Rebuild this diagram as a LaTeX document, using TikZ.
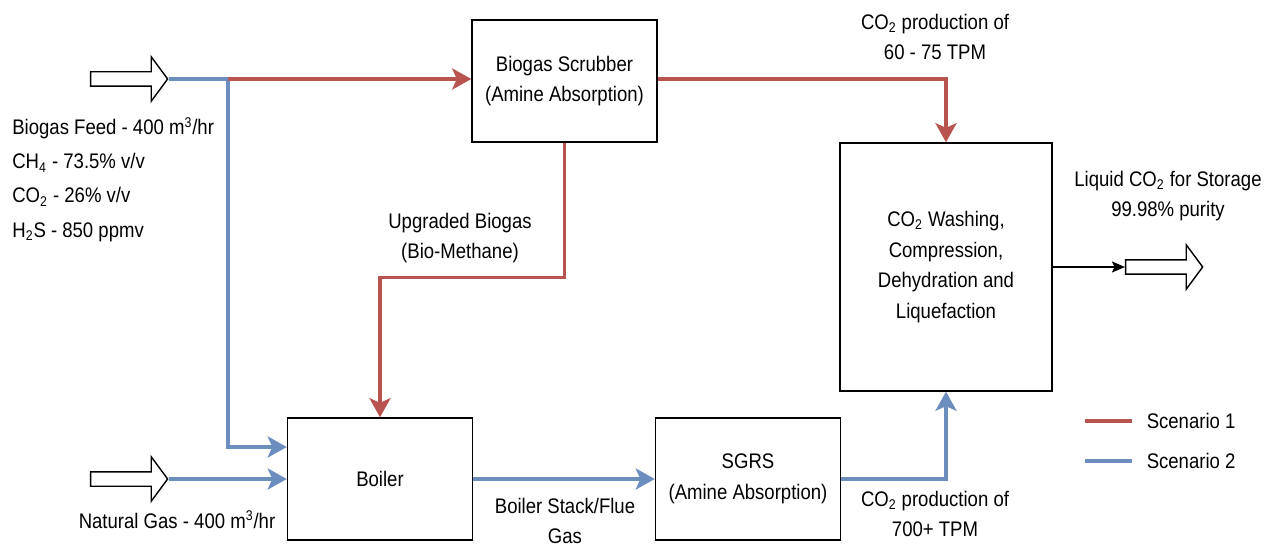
\documentclass[tikz,border=0pt]{standalone}
\usepackage{fontspec}
\setmainfont{Liberation Sans}[FakeStretch=0.88]
\usetikzlibrary{positioning}
\usetikzlibrary{arrows.meta}
\usetikzlibrary{shapes.arrows}
\definecolor{scenred}{HTML}{B85450}
\definecolor{scenblue}{HTML}{6C8EBF}
\tikzset{
	every node/.style={font=\fontsize{12}{17.5}\selectfont},
	unit/.style={draw, line width=0.85pt, align=center, minimum width=3.7cm, minimum height=2.44cm},
	hollow/.style={single arrow, draw, fill=white, line width=0.8pt, inner xsep=0pt, inner ysep=0.13cm,
		minimum height=1.54cm, single arrow head extend=0.3cm, single arrow tip angle=107},
	lbl/.style={align=center, inner sep=0pt},
	feed/.style={anchor=base west, inner sep=0pt},
	redline/.style={scenred, line width=2pt},
	blueline/.style={scenblue, line width=2pt},
	flow/.style={-{Stealth[length=0.38cm, width=0.42cm, inset=0.09cm]}},
	outflow/.style={-{Stealth[length=0.26cm, width=0.22cm, inset=0.05cm]}, line width=0.85pt}
}

\begin{document}
\begin{tikzpicture}[x=0.02cm, y=-0.02cm]
	\useasboundingbox (0,0) rectangle (1274,547);

	% Units
	\node (scrub) [unit] at (564.5,81) {Biogas Scrubber\\(Amine Absorption)};
	\node (wash) [unit, minimum width=4.24cm, minimum height=4.96cm] at (946,267) {CO\textsubscript{2} Washing,\\Compression,\\Dehydration and\\Liquefaction};
	\node (boiler) [unit] at (380,479) {Boiler};
	\node (sgrs) [unit] at (748,479) {SGRS\\(Amine Absorption)};

	% Inlets and outlet
	\node (bgin) [hollow] at (126.5,79) {};
	\node (ngin) [hollow] at (126.5,479) {};
	\node (lqout) [hollow] at (1161.5,267) {};
	\coordinate (junc) at (228,79);

	% Feed data
	\node (feed1) [feed] at (12,135) {Biogas Feed - 400 m\textsuperscript{3}/hr};
	\node (feed2) [feed] at (12,169) {CH\textsubscript{4} - 73.5\% v/v};
	\node (feed3) [feed] at (12,203) {CO\textsubscript{2} - 26\% v/v};
	\node (feed4) [feed] at (12,237) {H\textsubscript{2}S - 850 ppmv};
	\node (ngas) [lbl] at (177,520) {Natural Gas - 400 m\textsuperscript{3}/hr};

	% Stream labels
	\node (co2a) [lbl] at (935,37) {CO\textsubscript{2} production of\\60 - 75 TPM};
	\node (upg) [lbl] at (460,238) {Upgraded Biogas\\(Bio-Methane)};
	\node (flue) [lbl] at (565,521) {Boiler Stack/Flue\\Gas};
	\node (co2b) [lbl] at (935,514) {CO\textsubscript{2} production of\\700+ TPM};
	\node (prod) [lbl] at (1168,196) {Liquid CO\textsubscript{2} for Storage\\99.98\% purity};

	% Scenario 2
	\draw[blueline] (bgin.east) -- (junc);
	\draw[blueline, flow] (junc) |- ([yshift=0.64cm]boiler.west);
	\draw[blueline, flow] (ngin.east) -- (boiler.west);
	\draw[blueline, flow] (boiler.east) -- (sgrs.west);
	\draw[blueline, flow] (sgrs.east) -| (wash.south);

	% Scenario 1
	\draw[redline, flow] (junc) -- (junc -| scrub.west);
	\draw[redline, flow] (scrub.east |- junc) -| (wash.north);
	\draw[redline, flow] (scrub.south) -- ++(0,135) -| (boiler.north);

	% Product
	\draw[outflow] (wash.east) -- (lqout.west);

	% Legend
	\coordinate (leg1) at (1085,421);
	\coordinate (leg2) at (1085,461);
	\draw[redline] (leg1) -- ++(47,0) node (s1) [right=0.26cm, inner sep=0pt, text=black] {Scenario 1};
	\draw[blueline] (leg2) -- ++(47,0) node (s2) [right=0.26cm, inner sep=0pt, text=black] {Scenario 2};
\end{tikzpicture}
\end{document}
